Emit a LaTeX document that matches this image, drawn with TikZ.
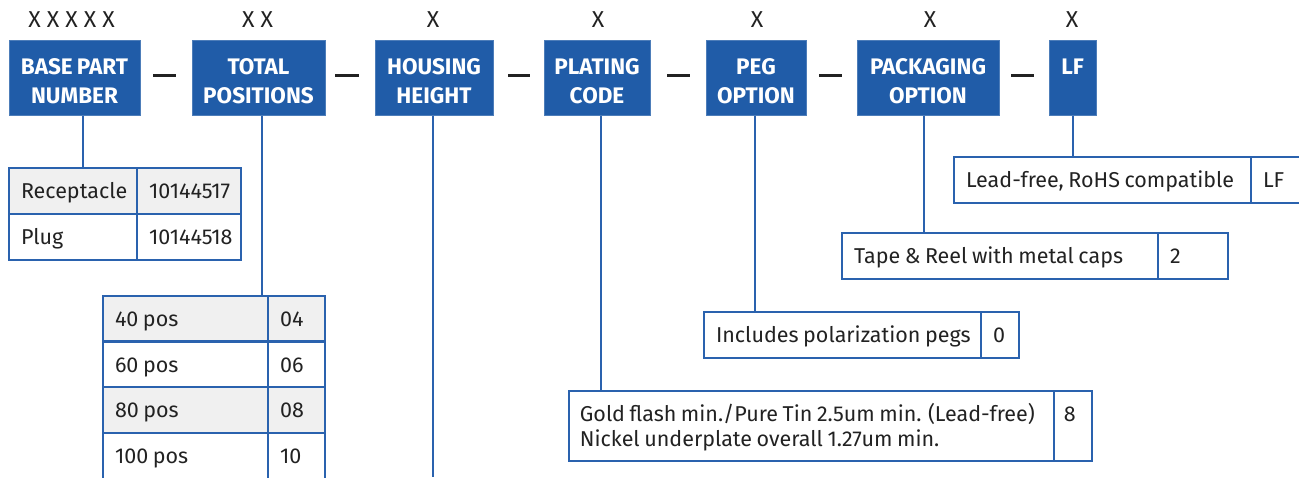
\documentclass[tikz,border=0pt]{standalone}
\usepackage{fontspec}
\setmainfont{Fira Sans}[WordSpace=0.8]
\newfontfamily\xfont{Fira Sans}
\usetikzlibrary{calc}
\definecolor{hdrblue}{HTML}{205CA8}
\definecolor{lnblue}{HTML}{2A62AE}
\definecolor{rowgray}{HTML}{F0F0F0}
\definecolor{txt}{HTML}{222222}
\newcommand{\cbx}[2]{\makebox[#1][l]{#2}}
\tikzset{
  hdr/.style={fill=hdrblue, draw=hdrblue!80!white, line width=1pt, inner sep=0pt, minimum height=75pt},
  hdrtxt/.style={text=white, font=\bfseries\fontsize{22.5}{29}\selectfont, align=center, inner sep=0pt},
  xlab/.style={text=txt, font=\xfont\fontsize{23}{25}\selectfont, inner sep=0pt},
  sep/.style={draw=txt, line width=2.6pt},
  conn/.style={draw=lnblue, line width=2.6pt},
  cell/.style={draw=lnblue, line width=2.6pt, text=txt, font=\fontsize{21.5}{25}\selectfont, inner xsep=12pt, inner ysep=0pt, minimum height=#1, text height=15pt, text depth=0pt},
  cell/.default=46pt,
  celltxt/.style={text=txt, font=\fontsize{21.5}{25}\selectfont, inner sep=0pt},
  gray/.style={fill=rowgray}
}
\begin{document}
\begin{tikzpicture}[x=1pt,y=-1pt]
\useasboundingbox (0,0) rectangle (1299,477);
% header boxes
\node[hdr, minimum width=131pt] (base) at (74.5,77.5) {};
\node[hdr, minimum width=133pt] (total) at (258.5,77.5) {};
\node[hdr, minimum width=118pt] (housing) at (434,77.5) {};
\node[hdr, minimum width=106pt] (plating) at (597,77.5) {};
\node[hdr, minimum width=100pt] (peg) at (756,77.5) {};
\node[hdr, minimum width=142pt] (pack) at (928,77.5) {};
\node[hdr, minimum width=47pt] (lf) at (1072.5,77.5) {};
\node[hdrtxt] (baset) at ($(base.center)+(0,4)$) {BASE PART\\NUMBER};
\node[hdrtxt] (totalt) at ($(total.center)+(0,4)$) {TOTAL\\POSITIONS};
\node[hdrtxt] (housingt) at ($(housing.center)+(0,4)$) {HOUSING\\HEIGHT};
\node[hdrtxt] (platingt) at ($(plating.center)+(0,4)$) {PLATING\\CODE};
\node[hdrtxt] (pegt) at ($(peg.center)+(0,4)$) {PEG\\OPTION};
\node[hdrtxt] (packt) at ($(pack.center)+(0,4)$) {PACKAGING\\OPTION};
\node[hdrtxt, anchor=base] (lft1) at ($(lf.center)+(0,-3)$) {LF};
% X labels
\node[xlab] (xbase) at (71.5,20) {X X X X X};
\node[xlab] (xtotal) at (257.5,20) {X X};
\node[xlab] (xhousing) at (433,20) {X};
\node[xlab] (xplating) at (598,20) {X};
\node[xlab] (xpeg) at (757,20) {X};
\node[xlab] (xpack) at (930,20) {X};
\node[xlab] (xlf) at (1072,20) {X};
% separators
\coordinate (s1a) at (153,75.5); \coordinate (s1b) at (176,75.5);
\coordinate (s2a) at (335,75.5); \coordinate (s2b) at (359,75.5);
\coordinate (s3a) at (508,75.5); \coordinate (s3b) at (530,75.5);
\coordinate (s4a) at (667,75.5); \coordinate (s4b) at (690,75.5);
\coordinate (s5a) at (819,75.5); \coordinate (s5b) at (842,75.5);
\coordinate (s6a) at (1011,75.5); \coordinate (s6b) at (1034,75.5);
\foreach \i in {1,...,6} \draw[sep] (s\i a) -- (s\i b);
% base part table
\node[cell, gray, minimum width=128pt] (rec) at (73,191) {\cbx{104pt}{Receptacle}};
\node[cell, gray, minimum width=104pt] (recn) at (189,191) {\cbx{80pt}{10144517}};
\node[cell, minimum width=128pt] (plug) at (73,237) {\cbx{104pt}{Plug}};
\node[cell, minimum width=104pt] (plugn) at (189,237) {\cbx{80pt}{10144518}};
% positions table
\node[cell=45.7pt, gray, minimum width=165pt] (p40) at (185.5,319) {\cbx{141pt}{40 pos}};
\node[cell=45.7pt, gray, minimum width=57pt] (p40n) at (296.5,319) {\cbx{33pt}{04}};
\node[cell=45.7pt, minimum width=165pt] (p60) at (185.5,364.5) {\cbx{141pt}{60 pos}};
\node[cell=45.7pt, minimum width=57pt] (p60n) at (296.5,364.5) {\cbx{33pt}{06}};
\node[cell=45.7pt, gray, minimum width=165pt] (p80) at (185.5,410) {\cbx{141pt}{80 pos}};
\node[cell=45.7pt, gray, minimum width=57pt] (p80n) at (296.5,410) {\cbx{33pt}{08}};
\node[cell=45.7pt, minimum width=165pt] (p100) at (185.5,456) {\cbx{141pt}{100 pos}};
\node[cell=45.7pt, minimum width=57pt] (p100n) at (296.5,456) {\cbx{33pt}{10}};
% lead-free table
\node[cell, minimum width=297pt] (lft) at (1102.5,180) {\cbx{273pt}{Lead-free, RoHS compatible}};
\node[cell, minimum width=60pt] (lfn) at (1281,180) {\cbx{36pt}{LF}};
% tape table
\node[cell, minimum width=316pt] (tape) at (1000,256) {\cbx{292pt}{Tape \& Reel with metal caps}};
\node[cell, minimum width=70pt] (tapen) at (1193,256) {\cbx{46pt}{2}};
% pegs table
\node[cell, minimum width=277pt] (pegs) at (842.5,335) {\cbx{253pt}{Includes polarization pegs}};
\node[cell, minimum width=38pt] (pegsn) at (1000,335) {\cbx{14pt}{0}};
% gold table
\node[cell=70pt, minimum width=485pt] (gold) at (811.5,426) {};
\node[cell=70pt, minimum width=38pt] (goldn) at (1073,426) {};
\node[celltxt, anchor=base west] (gold1) at ($(gold.north west)+(12,32)$) {Gold flash min./Pure Tin 2.5um min. (Lead-free)};
\node[celltxt, anchor=base west] (gold2) at ($(gold.north west)+(12,57)$) {Nickel underplate overall 1.27um min.};
\node[celltxt, anchor=base west] (gold8) at ($(goldn.north west)+(11,32)$) {8};
% connectors
\draw[conn] (base.south) ++(8.5,0) coordinate (cb) -- (cb |- rec.north);
\draw[conn] (total.south) ++(3.5,0) coordinate (ct) -- (ct |- p40.north);
\draw[conn] (housing.south) ++(-1,0) coordinate (ch) -- (ch |- 0,477);
\draw[conn] (plating.south) ++(4,0) coordinate (cp) -- (cp |- gold.north);
\draw[conn] (peg.south) ++(-1,0) coordinate (cg) -- (cg |- pegs.north);
\draw[conn] (pack.south) ++(-4,0) coordinate (ck) -- (ck |- tape.north);
\draw[conn] (lf.south) ++(0.5,0) coordinate (cl) -- (cl |- lft.north);
\end{tikzpicture}
\end{document}
